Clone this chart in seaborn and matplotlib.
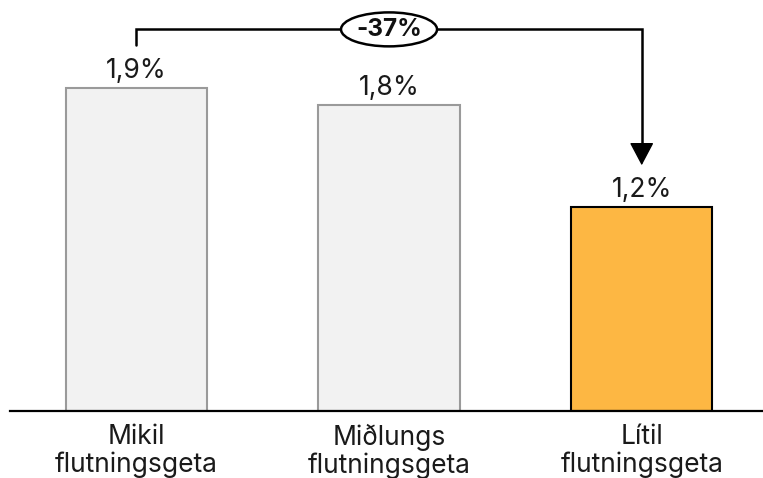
import matplotlib
matplotlib.use('Agg')
import matplotlib.pyplot as plt
import seaborn as sns
import pandas as pd
from matplotlib.patches import FancyArrowPatch, Ellipse

categories = ['Mikil\nflutningsgeta', 'Miðlungs\nflutningsgeta', 'Lítil\nflutningsgeta']
values = [1.9, 1.8, 1.2]
value_labels = ['1,9%', '1,8%', '1,2%']
change_label = '-37%'

fill_colors = ['#f2f2f2', '#f2f2f2', '#fdb743']
edge_colors = ['#9a9a9a', '#9a9a9a', '#000000']

sns.set_style('white')
plt.rcParams['font.family'] = ['Inter', 'DejaVu Sans']

df = pd.DataFrame({'cat': categories, 'val': values})

fig = plt.figure(figsize=(7.63, 4.78), dpi=100)
ax = fig.add_axes([10 / 763, 67 / 478, 753 / 763, 411 / 478])
sns.barplot(data=df, x='cat', y='val', hue='cat', palette=fill_colors,
            width=0.56, legend=False, ax=ax, saturation=1)
for patch, ec in zip(ax.patches, edge_colors):
    patch.set_edgecolor(ec)
    patch.set_linewidth(1.5)

ax.set_xlim(-0.5, 2.48)
ax.set_ylim(0, 2.42)
for s in ['top', 'right', 'left']:
    ax.spines[s].set_visible(False)
ax.spines['bottom'].set_color('black')
ax.spines['bottom'].set_linewidth(1.6)
ax.set_yticks([])
ax.set_xlabel('')
ax.set_ylabel('')
ax.tick_params(axis='x', length=0, labelsize=19, pad=9, labelcolor='#1a1a1a')
for lbl in ax.get_xticklabels():
    lbl.set_linespacing(1.08)

for i, (v, t) in enumerate(zip(values, value_labels)):
    ax.text(i, v + 0.025, t, ha='center', va='bottom', fontsize=19, color='#1a1a1a')

# bracket from first bar to last bar
y_top = 2.247
ax.plot([0, 0, 2, 2], [values[0] + 0.253, y_top, y_top, values[2] + 0.3],
        color='black', lw=1.8, solid_joinstyle='miter')
arrow = FancyArrowPatch((2, values[2] + 0.34), (2, values[2] + 0.247),
                        arrowstyle='-|>,head_length=0.85,head_width=0.45',
                        mutation_scale=17, color='black', lw=1.0,
                        shrinkA=0, shrinkB=0)
ax.add_patch(arrow)
ax.add_patch(Ellipse((1, y_top), width=0.38, height=0.2, fc='white',
                     ec='black', lw=1.8, zorder=3))
ax.text(1, y_top, change_label, ha='center', va='center', fontsize=17.5,
        fontweight='bold', color='#111111', zorder=4)

fig.savefig('out.png', dpi=100)
